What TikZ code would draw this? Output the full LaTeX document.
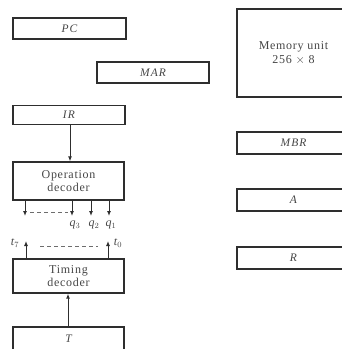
\documentclass[tikz,border=0pt]{standalone}
\usepackage{fontspec}
\setmainfont{Liberation Serif}
\newfontfamily\spacedrm[LetterSpace=6]{Liberation Serif}
\newfontfamily\spacedit[LetterSpace=10,ItalicFont={* Italic}]{Liberation Serif}
\usetikzlibrary{arrows.meta}
\definecolor{ink}{HTML}{2E2E2E}
\definecolor{txt}{HTML}{454545}
\tikzset{
  box/.style={draw=ink, line width=1.3pt, rectangle, inner sep=0pt, text=txt},
  reg/.style={box, font=\spacedit\fontsize{11.5}{12}\selectfont\itshape},
  dec/.style={box, font=\spacedrm\fontsize{12}{13.5}\selectfont, align=center},
  arr/.style={draw=ink, line width=1pt, -{Latex[length=5pt,width=4pt]}},
  dsh/.style={draw=ink!70, line width=0.8pt, dash pattern=on 4pt off 3pt},
  lbl/.style={text=txt, inner sep=0pt, font=\fontsize{12}{12}\selectfont\itshape}
}
\begin{document}
\begin{tikzpicture}[x=1pt,y=-1pt]
\useasboundingbox (0,0) rectangle (341,349);
% left column
\node[reg, minimum width=113pt, minimum height=21pt] (pc) at (69.5,28.5) {PC};
\node[reg, minimum width=112pt, minimum height=21pt] (mar) at (153,72.5) {MAR};
\node[reg, minimum width=112pt, minimum height=19pt] (ir) at (69,115) {IR};
\node[dec, minimum width=111pt, minimum height=38pt] (op) at (68.5,181) {Operation\\decoder};
\node[dec, minimum width=111pt, minimum height=34pt] (td) at (68.5,276) {Timing\\decoder};
\node[reg, minimum width=111pt, minimum height=24pt] (t) at (68.5,339) {T};
% right column
\node[dec, minimum width=113pt, minimum height=88pt] (mem) at (293.5,53) {Memory unit\\256 $\times$ 8};
\node[reg, minimum width=113pt, minimum height=22pt] (mbr) at (293.5,143) {MBR};
\node[reg, minimum width=113pt, minimum height=22pt] (a) at (293.5,200) {A};
\node[reg, minimum width=113pt, minimum height=22pt] (r) at (293.5,258) {R};
% IR -> operation decoder
\draw[arr] (ir.south -| 70,0) -- (op.north -| 70,0);
% operation decoder outputs
\coordinate (q7) at (25,216);
\coordinate (q3) at (72,216);
\coordinate (q2) at (91,216);
\coordinate (q1) at (109,216);
\foreach \c in {q7,q3,q2,q1} \draw[arr] (op.south -| \c) -- (\c);
\draw[dsh] (30,212) -- (68,212);
\node[lbl] (lq3) at (75,225) {q$_3$};
\node[lbl] (lq2) at (94,225) {q$_2$};
\node[lbl] (lq1) at (111,225) {q$_1$};
% timing decoder outputs
\coordinate (t7) at (26,241);
\coordinate (t0) at (108,241);
\draw[arr] (td.north -| t7) -- (t7);
\draw[arr] (td.north -| t0) -- (t0);
\draw[dsh] (40,246) -- (98,246);
\node[lbl] (lt7) at (15,243) {t$_7$};
\node[lbl] (lt0) at (118,243) {t$_0$};
% T -> timing decoder
\draw[arr] (t.north -| 68,0) -- (td.south -| 68,0);
\end{tikzpicture}
\end{document}
